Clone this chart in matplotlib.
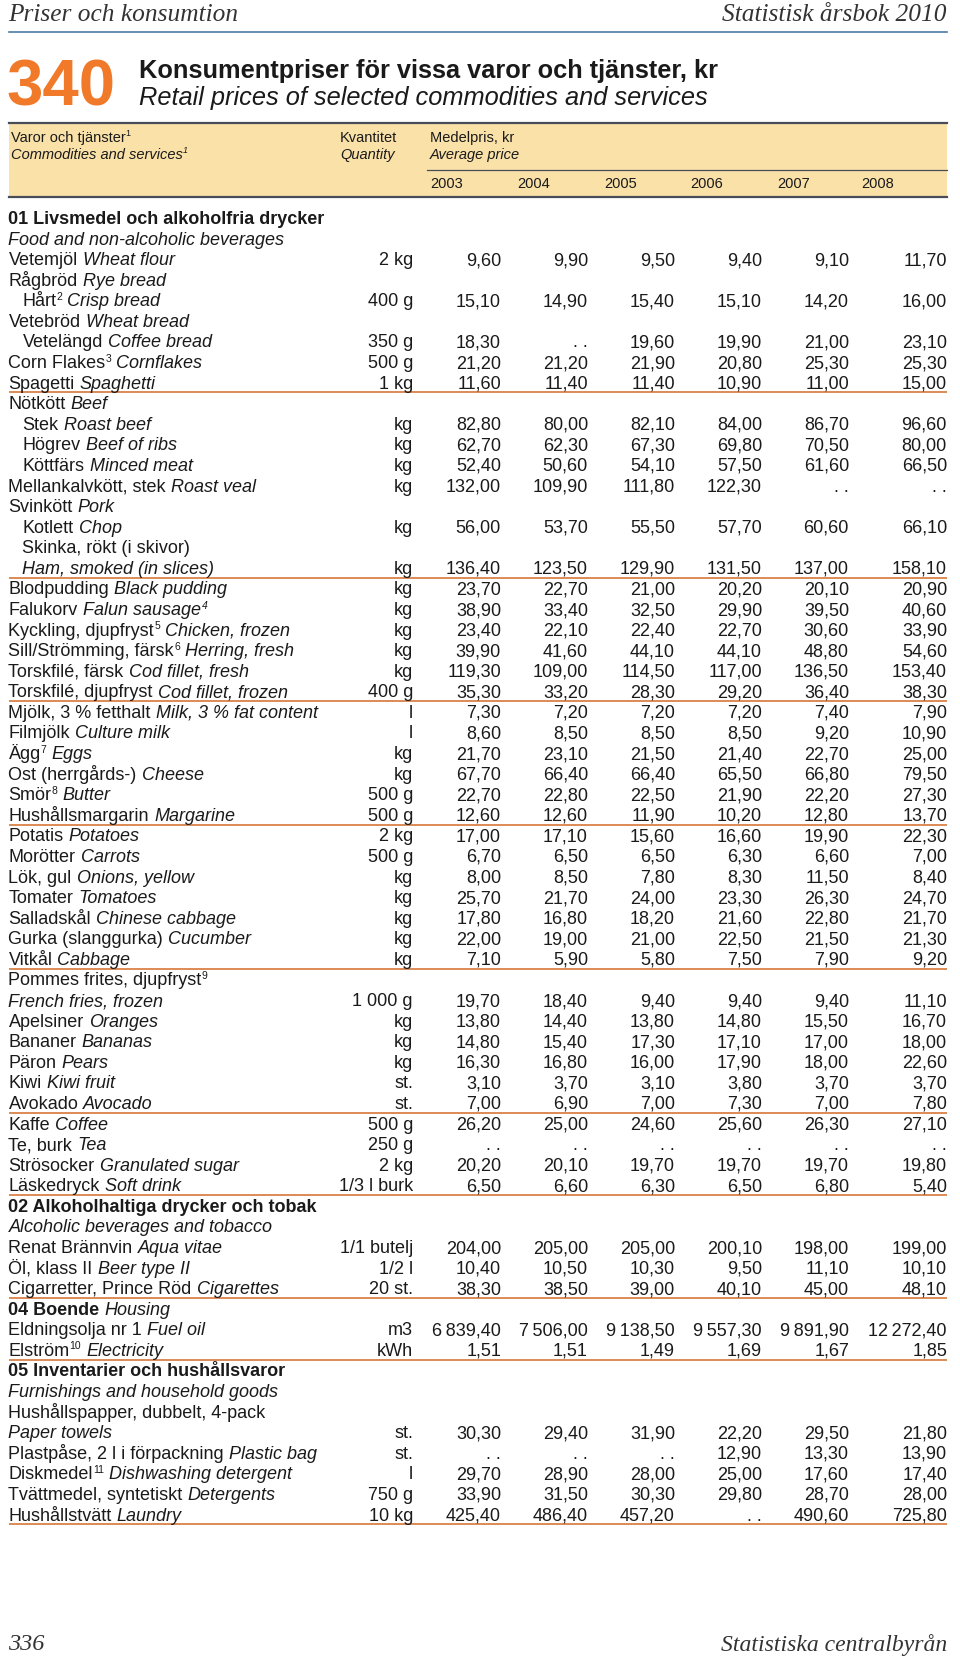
import matplotlib
matplotlib.use("Agg")
import matplotlib.pyplot as plt
from matplotlib.patches import Rectangle
import numpy as np

# table 340: retail prices of selected commodities and services, kr
years = [2003, 2004, 2005, 2006, 2007, 2008]

# one entry per table row (64 rows)
names_sv = ["01 Livsmedel och alkoholfria drycker", "", "Vetemjöl", "Rågbröd", "Hårt", "Vetebröd",
            "Vetelängd", "Corn Flakes", "Spagetti", "Nötkött", "Stek", "Högrev", "Köttfärs",
            "Mellankalvkött, stek", "Svinkött", "Kotlett", "Skinka, rökt (i skivor)", "",
            "Blodpudding", "Falukorv", "Kyckling, djupfryst", "Sill/Strömming, färsk",
            "Torskfilé, färsk", "Torskfilé, djupfryst", "Mjölk, 3 % fetthalt", "Filmjölk", "Ägg",
            "Ost (herrgårds-)", "Smör", "Hushållsmargarin", "Potatis", "Morötter", "Lök, gul",
            "Tomater", "Salladskål", "Gurka (slanggurka)", "Vitkål", "Pommes frites, djupfryst", "",
            "Apelsiner", "Bananer", "Päron", "Kiwi", "Avokado", "Kaffe", "Te, burk", "Strösocker",
            "Läskedryck", "02 Alkoholhaltiga drycker och tobak", "", "Renat Brännvin", "Öl, klass II",
            "Cigarretter, Prince Röd", "04 Boende", "Eldningsolja nr 1", "Elström",
            "05 Inventarier och hushållsvaror", "", "Hushållspapper, dubbelt, 4-pack", "",
            "Plastpåse, 2 l i förpackning", "Diskmedel", "Tvättmedel, syntetiskt", "Hushållstvätt"]
names_en = ["", "Food and non-alcoholic beverages", "Wheat flour", "Rye bread", "Crisp bread",
            "Wheat bread", "Coffee bread", "Cornflakes", "Spaghetti", "Beef", "Roast beef",
            "Beef of ribs", "Minced meat", "Roast veal", "Pork", "Chop", "", "Ham, smoked (in slices)",
            "Black pudding", "Falun sausage", "Chicken, frozen", "Herring, fresh", "Cod fillet, fresh",
            "Cod fillet, frozen", "Milk, 3 % fat content", "Culture milk", "Eggs", "Cheese", "Butter",
            "Margarine", "Potatoes", "Carrots", "Onions, yellow", "Tomatoes", "Chinese cabbage",
            "Cucumber", "Cabbage", "", "French fries, frozen", "Oranges", "Bananas", "Pears",
            "Kiwi fruit", "Avocado", "Coffee", "Tea", "Granulated sugar", "Soft drink", "",
            "Alcoholic beverages and tobacco", "Aqua vitae", "Beer type II", "Cigarettes", "Housing",
            "Fuel oil", "Electricity", "", "Furnishings and household goods", "", "Paper towels",
            "Plastic bag", "Dishwashing detergent", "Detergents", "Laundry"]
quantities = ["", "", "2 kg", "", "400 g", "", "350 g", "500 g", "1 kg", "", "kg", "kg", "kg", "kg",
              "", "kg", "", "kg", "kg", "kg", "kg", "kg", "kg", "400 g", "l", "l", "kg", "kg",
              "500 g", "500 g", "2 kg", "500 g", "kg", "kg", "kg", "kg", "kg", "", "1 000 g", "kg",
              "kg", "kg", "st.", "st.", "500 g", "250 g", "2 kg", "1/3 l burk", "", "", "1/1 butelj",
              "1/2 l", "20 st.", "", "m3", "kWh", "", "", "", "st.", "st.", "l", "750 g", "10 kg"]

notes_sv = {4: "2", 7: "3", 20: "5", 21: "6", 26: "7", 28: "8", 37: "9", 55: "10", 61: "11"}
notes_en = {19: "4"}
indented = [4, 6, 10, 11, 12, 15, 16, 17]
sections = [0, 48, 53, 56]
group_ends = [8, 17, 23, 29, 36, 43, 47, 52, 55, 63]

nan = np.nan
# prices for the rows that have a quantity, in table order
price_2003 = [9.60, 15.10, 18.30, 21.20, 11.60, 82.80, 62.70, 52.40, 132.00, 56.00, 136.40, 23.70,
              38.90, 23.40, 39.90, 119.30, 35.30, 7.30, 8.60, 21.70, 67.70, 22.70, 12.60, 17.00,
              6.70, 8.00, 25.70, 17.80, 22.00, 7.10, 19.70, 13.80, 14.80, 16.30, 3.10, 7.00, 26.20,
              nan, 20.20, 6.50, 204.00, 10.40, 38.30, 6839.40, 1.51, 30.30, nan, 29.70, 33.90, 425.40]
price_2004 = [9.90, 14.90, nan, 21.20, 11.40, 80.00, 62.30, 50.60, 109.90, 53.70, 123.50, 22.70,
              33.40, 22.10, 41.60, 109.00, 33.20, 7.20, 8.50, 23.10, 66.40, 22.80, 12.60, 17.10,
              6.50, 8.50, 21.70, 16.80, 19.00, 5.90, 18.40, 14.40, 15.40, 16.80, 3.70, 6.90, 25.00,
              nan, 20.10, 6.60, 205.00, 10.50, 38.50, 7506.00, 1.51, 29.40, nan, 28.90, 31.50, 486.40]
price_2005 = [9.50, 15.40, 19.60, 21.90, 11.40, 82.10, 67.30, 54.10, 111.80, 55.50, 129.90, 21.00,
              32.50, 22.40, 44.10, 114.50, 28.30, 7.20, 8.50, 21.50, 66.40, 22.50, 11.90, 15.60,
              6.50, 7.80, 24.00, 18.20, 21.00, 5.80, 9.40, 13.80, 17.30, 16.00, 3.10, 7.00, 24.60,
              nan, 19.70, 6.30, 205.00, 10.30, 39.00, 9138.50, 1.49, 31.90, nan, 28.00, 30.30, 457.20]
price_2006 = [9.40, 15.10, 19.90, 20.80, 10.90, 84.00, 69.80, 57.50, 122.30, 57.70, 131.50, 20.20,
              29.90, 22.70, 44.10, 117.00, 29.20, 7.20, 8.50, 21.40, 65.50, 21.90, 10.20, 16.60,
              6.30, 8.30, 23.30, 21.60, 22.50, 7.50, 9.40, 14.80, 17.10, 17.90, 3.80, 7.30, 25.60,
              nan, 19.70, 6.50, 200.10, 9.50, 40.10, 9557.30, 1.69, 22.20, 12.90, 25.00, 29.80, nan]
price_2007 = [9.10, 14.20, 21.00, 25.30, 11.00, 86.70, 70.50, 61.60, nan, 60.60, 137.00, 20.10,
              39.50, 30.60, 48.80, 136.50, 36.40, 7.40, 9.20, 22.70, 66.80, 22.20, 12.80, 19.90,
              6.60, 11.50, 26.30, 22.80, 21.50, 7.90, 9.40, 15.50, 17.00, 18.00, 3.70, 7.00, 26.30,
              nan, 19.70, 6.80, 198.00, 11.10, 45.00, 9891.90, 1.67, 29.50, 13.30, 17.60, 28.70, 490.60]
price_2008 = [11.70, 16.00, 23.10, 25.30, 15.00, 96.60, 80.00, 66.50, nan, 66.10, 158.10, 20.90,
              40.60, 33.90, 54.60, 153.40, 38.30, 7.90, 10.90, 25.00, 79.50, 27.30, 13.70, 22.30,
              7.00, 8.40, 24.70, 21.70, 21.30, 9.20, 11.10, 16.70, 18.00, 22.60, 3.70, 7.80, 27.10,
              nan, 19.80, 5.40, 199.00, 10.10, 48.10, 12272.40, 1.85, 21.80, 13.90, 17.40, 28.00, 725.80]
prices = [price_2003, price_2004, price_2005, price_2006, price_2007, price_2008]

SANS = ["Liberation Sans", "DejaVu Sans"]
NARROW = ["Liberation Sans Narrow", "Liberation Sans", "DejaVu Sans"]
SERIF = ["Liberation Serif", "DejaVu Serif"]
ORANGE = "#f07a2a"
RULE = "#dd8a55"
DARK = "#4a4d57"

W, H = 960, 1663
fig = plt.figure(figsize=(W / 100, H / 100), dpi=100)
ax = fig.add_axes([0, 0, 1, 1])
ax.set_xlim(0, W)
ax.set_ylim(H, 0)
ax.axis("off")
renderer = fig.canvas.get_renderer()

left, right = 8.5, 947
row0, row_step = 217.5, 20.58
qty_right = 413
col_right = [501, 588, 675, 762, 849, 947]
year_left = [430, 517, 604, 690, 777, 861]


def fmt(v):
    if v is None or np.isnan(v):
        return ". ."
    s = f"{v:,.2f}"
    return s.replace(",", "\u2009").replace(".", ",")


def put(x, y, s, size, style="normal", weight="normal", **kw):
    t = ax.text(x, y, s, fontsize=size, style=style, weight=weight, family=SANS,
                va="baseline", color="#1a1a1a", **kw)
    return t.get_window_extent(renderer=renderer).width


# running header and footer
ax.text(left, 15, "Priser och konsumtion", family=SERIF, style="italic", fontsize=18.3,
        va="center", color="#333333")
ax.text(right, 15, "Statistisk årsbok 2010", family=SERIF, style="italic", fontsize=18.3,
        va="center", ha="right", color="#333333")
ax.plot([left, right], [32, 32], color="#4a7aa3", lw=1.2)
ax.text(left, 1645, "336", family=SERIF, style="italic", fontsize=17.5, va="center", color="#333333")
ax.text(right, 1645, "Statistiska centralbyrån", family=SERIF, style="italic", fontsize=17,
        va="center", ha="right", color="#333333")

# table number and title
ax.text(6, 105, "340", family=NARROW, weight="bold", fontsize=47, color=ORANGE, va="baseline")
ax.text(139, 78, "Konsumentpriser för vissa varor och tjänster, kr", family=SANS, weight="bold",
        fontsize=18.3, va="baseline", color="#1a1a1a")
ax.text(139, 105, "Retail prices of selected commodities and services", family=SANS,
        style="italic", fontsize=18.3, va="baseline", color="#1a1a1a")

# column header box
ax.add_patch(Rectangle((left, 123), right - left, 74, facecolor="#f9e1a8", edgecolor="none"))
ax.plot([left, right], [123, 123], color=DARK, lw=1.6)
ax.plot([left, right], [197, 197], color=DARK, lw=1.6)
ax.plot([427, right], [170, 170], color=DARK, lw=0.9)
w = put(11, 142, "Varor och tjänster", 10.5)
put(11 + w, 136, "1", 6.5)
w = put(11, 159, "Commodities and services", 10.5, style="italic")
put(11 + w, 153, "1", 6.5, style="italic")
put(340, 142, "Kvantitet", 10.5)
put(340, 159, "Quantity", 10.5, style="italic")
put(430, 142, "Medelpris, kr", 10.5)
put(430, 159, "Average price", 10.5, style="italic")
for x, yr in zip(year_left, years):
    put(x, 187.5, str(yr), 10.5)

# body rows
fs, sup_fs = 13, 7.5
k = 0
for i in range(len(names_sv)):
    yc = row0 + i * row_step
    base = yc + 6.5
    x = left + (14 if i in indented else 0)
    sv, en = names_sv[i], names_en[i]
    if sv:
        x += put(x, base, sv, fs, weight="bold" if i in sections else "normal")
        if i in notes_sv:
            x += put(x, base - 6.5, notes_sv[i], sup_fs)
        x += 5
    if en:
        x += put(x, base, en, fs, style="italic")
        if i in notes_en:
            put(x + 1, base - 6.5, notes_en[i], sup_fs, style="italic")
    if quantities[i]:
        put(qty_right, base, quantities[i], fs, ha="right")
        for c in range(len(years)):
            put(col_right[c], base, fmt(prices[c][k]), fs, ha="right")
        k += 1
    if i in group_ends:
        ax.plot([left, right], [yc + 10.3, yc + 10.3], color=RULE, lw=1.4, solid_capstyle="butt")

fig.savefig("out.png", dpi=100)
